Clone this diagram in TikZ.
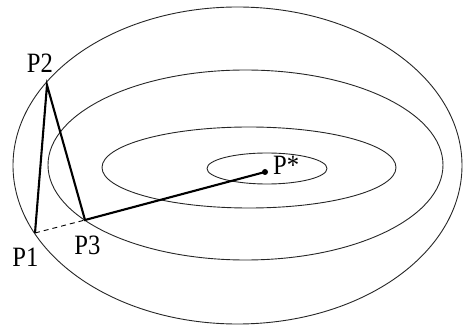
\documentclass[tikz,border=0pt]{standalone}
\usepackage{fontspec}
\setmainfont{Liberation Serif}
\begin{document}
\begin{tikzpicture}[x=1pt,y=-1pt,
  contour/.style={draw=black!85, line width=0.9pt},
  edge/.style={draw=black, line width=2.1pt},
  guess/.style={draw=black, line width=0.9pt, dash pattern=on 5pt off 4pt},
  lbl/.style={inner sep=0pt, font=\fontsize{28}{28}\selectfont, xscale=0.88},
  pt/.style={inner sep=0pt, minimum size=0pt}]
\useasboundingbox (0,0) rectangle (464,326);
% contour ellipses
\draw[contour] (237.5,165.5) ellipse [x radius=224.5, y radius=158.5];
\draw[contour] (245.5,165) ellipse [x radius=197.5, y radius=95];
\draw[contour] (249,167.5) ellipse [x radius=147, y radius=40.5];
\draw[contour] (267,168.5) ellipse [x radius=60, y radius=15.5];
% points
\coordinate (p1) at (35,233);
\coordinate (p2) at (47,85);
\coordinate (p3) at (85,220);
\coordinate (ps) at (265,172);
% simplex and path
\draw[guess] (p1) -- (p3);
\draw[edge, line join=miter] (p1) -- (p2) -- (p3) -- (ps);
\fill (ps) circle [radius=3];
% labels
\node[lbl, anchor=base] (l2) at (40,73) {P2};
\node[lbl, anchor=base] (l1) at (25.5,267) {P1};
\node[lbl, anchor=base] (l3) at (87.5,255) {P3};
\node[lbl, anchor=base west] (ls) at (273,175) {P*};
\end{tikzpicture}
\end{document}
